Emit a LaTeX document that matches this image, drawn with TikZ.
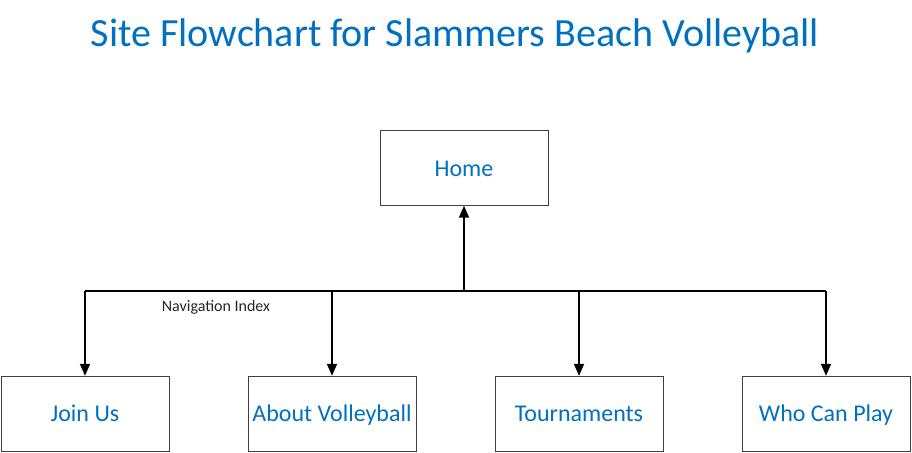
\documentclass[tikz,border=0pt]{standalone}
\usepackage{fontspec}
\setmainfont{Carlito}
\usetikzlibrary{positioning,arrows.meta}
\definecolor{siteblue}{HTML}{0070C0}

\begin{document}
\begin{tikzpicture}[x=1pt,y=-1pt,
    page/.style={rectangle, draw=black!75, fill=white, minimum width=168pt, minimum height=75pt, inner sep=0pt, text height=19pt, text depth=3pt, font=\fontsize{24}{28}\selectfont, text=siteblue},
    link/.style={line width=1.8pt, black},
    linkarrow/.style={link, -{Triangle[length=12pt,width=10pt]}}
]
\useasboundingbox (0,0) rectangle (912,452);

% Title
\node[font=\fontsize{40}{46}\selectfont, text=siteblue] (title) at (455,36) {Site Flowchart for Slammers Beach Volleyball};

% Home page
\node[page] (home) at (464,168) {Home};

% Sub pages
\node[page] (join) at (85,413.5) {Join Us};
\node[page] (about) at (332,413.5) {About Volleyball};
\node[page] (tourn) at (579,413.5) {Tournaments};
\node[page] (who) at (826,413.5) {Who Can Play};

% Navigation bus
\coordinate (bus) at (464,291);
\coordinate (busL) at (85,291);
\coordinate (busR) at (826,291);
\draw[link] (busL) -- (busR);
\draw[linkarrow] (bus) -- (home.south);

\foreach \p in {join,about,tourn,who}
  \draw[linkarrow] (\p.north |- bus) -- (\p.north);

% Label
\node[font=\fontsize{16}{18}\selectfont, text=black!85] (navlabel) at (216,307) {Navigation Index};

\end{tikzpicture}
\end{document}
